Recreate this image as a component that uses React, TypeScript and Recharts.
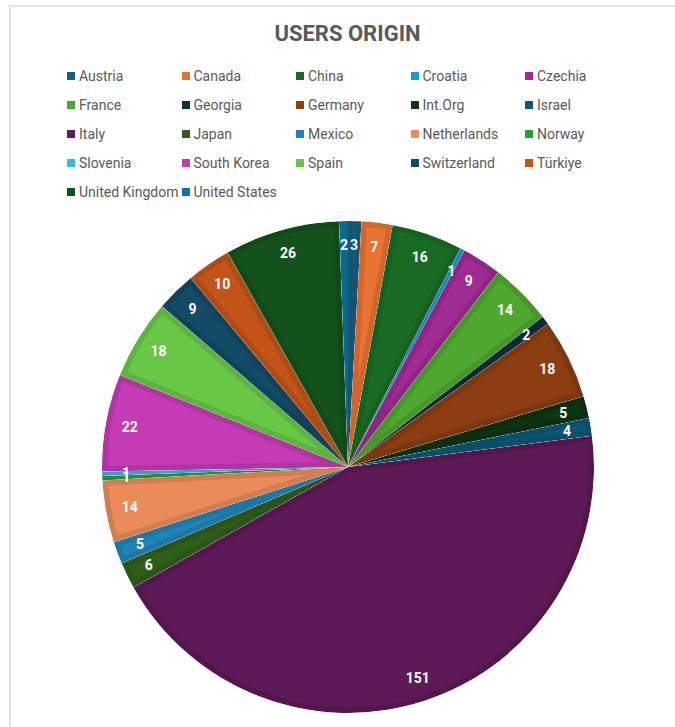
import React from 'react';
import { PieChart, Pie, Cell, Sector } from 'recharts';

// Users per country, listed in slice order (clockwise from 12 o'clock)
const countries = [
  'Austria', 'Canada', 'China', 'Croatia', 'Czechia',
  'France', 'Georgia', 'Germany', 'Int.Org', 'Israel',
  'Italy', 'Japan', 'Mexico', 'Netherlands', 'Norway',
  'Slovenia', 'South Korea', 'Spain', 'Switzerland', 'Türkiye',
  'United Kingdom', 'United States',
];
const users = [3, 7, 16, 1, 9, 14, 2, 18, 5, 4, 151, 6, 5, 14, 1, 1, 22, 18, 9, 10, 26, 2];
const colors = [
  '#156082', '#E97132', '#196B24', '#0F9ED5', '#A02B93',
  '#4EA72E', '#0B3041', '#8C3E12', '#0D3512', '#0B5876',
  '#5E1A56', '#2F5E1B', '#1F85B8', '#EB8B5A', '#24A03A',
  '#3BB5E6', '#C53BB5', '#67C846', '#124B66', '#C35417',
  '#14521C', '#0B76A0',
];

const data = countries.map((name, i) => ({ name, value: users[i] }));

const RADIAN = Math.PI / 180;
const FONT = 'Roboto, "Liberation Sans", sans-serif';
const TEXT_GRAY = '#595959';

// Excel-like slice: fill plus a darker inset band along the edges
const renderSlice = (props: any) => {
  const { cx, cy, innerRadius, outerRadius, startAngle, endAngle, fill } = props;
  const key = String(props.payload?.name ?? props.name ?? startAngle).replace(/\W/g, '');
  const geo = { cx, cy, innerRadius, outerRadius, startAngle, endAngle };
  return (
    <g>
      <defs>
        <clipPath id={`slice-${key}`}>
          <Sector {...geo} />
        </clipPath>
      </defs>
      <Sector
        {...geo}
        fill={fill}
        stroke="rgba(0,0,0,0.1)"
        strokeWidth={11}
        clipPath={`url(#slice-${key})`}
      />
    </g>
  );
};

const renderLabel = (props: any) => {
  const { cx, cy, midAngle, outerRadius, value } = props;
  const r = outerRadius - 24;
  const x = cx + r * Math.cos(-midAngle * RADIAN);
  const y = cy + r * Math.sin(-midAngle * RADIAN);
  return (
    <text
      x={x}
      y={y}
      fill="#ffffff"
      textAnchor="middle"
      dominantBaseline="central"
      fontSize={14}
      fontWeight="bold"
      fontFamily={FONT}
    >
      {value}
    </text>
  );
};

export default function App() {
  return (
    <div style={{ position: 'relative', width: 675, height: 727, overflow: 'hidden', background: '#fff' }}>
      <style>{'body{margin:0;overflow:hidden}'}</style>
      {/* chart area frame */}
      <div
        style={{
          position: 'absolute',
          left: 9,
          top: 5,
          width: 700,
          height: 760,
          borderLeft: '2px solid #e3e3e3',
          borderTop: '2px solid #e3e3e3',
        }}
      />
      <div
        style={{
          position: 'absolute',
          left: 0,
          top: 21,
          width: 695,
          textAlign: 'center',
          fontFamily: FONT,
          fontWeight: 'bold',
          fontSize: 22,
          color: TEXT_GRAY,
        }}
      >
        USERS ORIGIN
      </div>
      {/* legend: 5 columns */}
      {countries.map((name, i) => {
        const col = i % 5;
        const row = Math.floor(i / 5);
        return (
          <div
            key={name}
            style={{
              position: 'absolute',
              left: 67 + col * 114.5,
              top: 67 + row * 29,
              height: 18,
              display: 'flex',
              alignItems: 'center',
              fontFamily: FONT,
              fontSize: 14,
              color: TEXT_GRAY,
              whiteSpace: 'nowrap',
            }}
          >
            <span style={{ display: 'inline-block', width: 8, height: 8, background: colors[i], marginRight: 4 }} />
            {name}
          </div>
        );
      })}
      <div style={{ position: 'absolute', left: 0, top: 0 }}>
        <PieChart width={675} height={727} margin={{ top: 0, right: 0, bottom: 0, left: 0 }}>
          <Pie
            data={data}
            dataKey="value"
            nameKey="name"
            cx={348}
            cy={467}
            outerRadius={246}
            startAngle={90}
            endAngle={-270}
            stroke="none"
            shape={renderSlice}
            label={renderLabel}
            labelLine={false}
            isAnimationActive={false}
          >
            {data.map((d, i) => (
              <Cell key={d.name} fill={colors[i]} />
            ))}
          </Pie>
        </PieChart>
      </div>
    </div>
  );
}
